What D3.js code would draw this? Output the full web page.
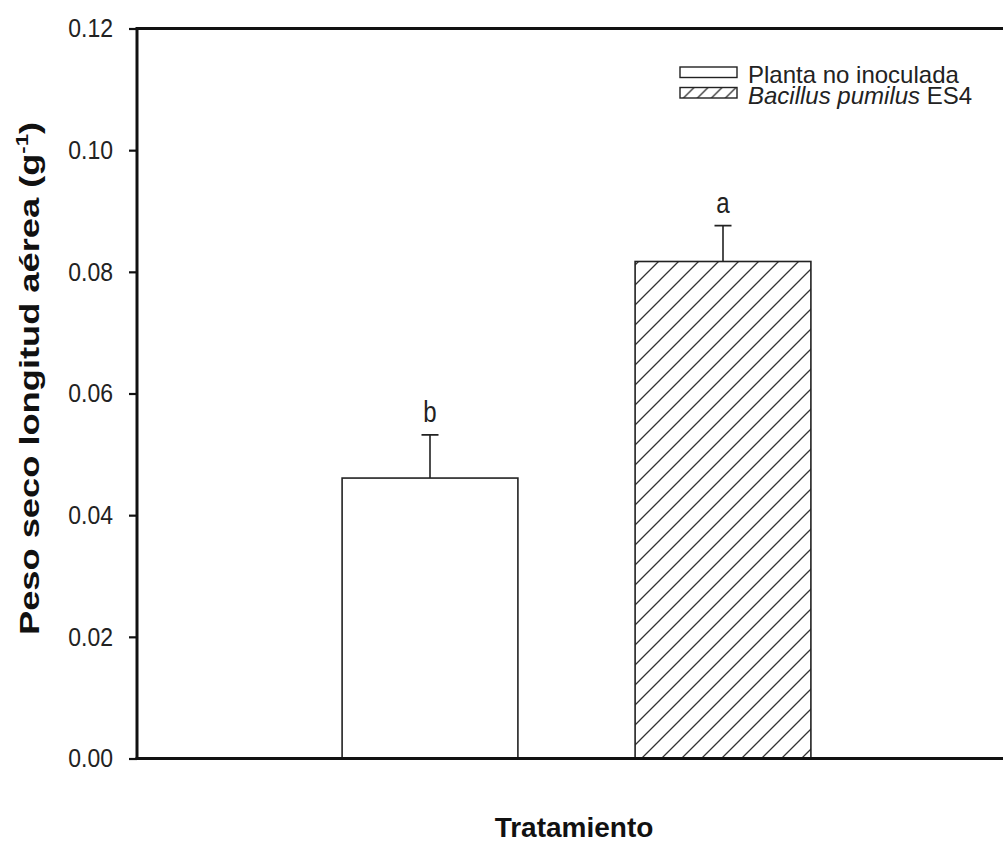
<!DOCTYPE html>
<meta charset="utf-8">
<style>
body, html {
  padding: 0;
  margin: 0;
  background: #fff;
}
svg {
  display: block;
  font-family: "Liberation Sans", Arial, sans-serif;
}
.axis path, .axis line {
  stroke: #111;
}
.bar {
  stroke: #222;
  stroke-width: 1.6px;
}
.err {
  stroke: #222;
  stroke-width: 1.6px;
  fill: none;
}
</style>
<body>
<script src="https://d3js.org/d3.v7.min.js"></script>
<script>

// data
var categories = ["Planta no inoculada", "Bacillus pumilus ES4"]
var means = [0.0461, 0.0817]
var errors = [0.0071, 0.0059]
var letters = ["b", "a"]
var yTicks = [0, 0.02, 0.04, 0.06, 0.08, 0.10, 0.12]

var width = 1003,
    height = 842,
    margin = {left: 137, top: 28.5, bottom: 83.5},
    plotRight = 1016,
    barWidth = 0.6

var svg = d3.select("body").append("svg")
    .attr("width", width)
    .attr("height", height)

var defs = svg.append("defs")

function hatch (id, size) {
  var p = defs.append("pattern")
      .attr("id", id)
      .attr("patternUnits", "userSpaceOnUse")
      .attr("width", size)
      .attr("height", size)
  p.append("rect").attr("width", size).attr("height", size).attr("fill", "#fff")
  p.append("path")
      .attr("d", "M0," + size + "L" + size + ",0M-2,2L2,-2M" + (size - 2) + "," + (size + 2) + "L" + (size + 2) + "," + (size - 2))
      .attr("stroke", "#333")
      .attr("stroke-width", 1.3)
}
hatch("hatch", 20)
hatch("hatch-small", 14)

var fills = ["#fff", "url(#hatch)"]
var legendFills = ["#fff", "url(#hatch-small)"]

var x = d3.scaleLinear()
    .domain([0, 3])
    .range([margin.left, plotRight])

var y = d3.scaleLinear()
    .domain([0, 0.12])
    .range([height - margin.bottom, margin.top])

// bars
svg.selectAll(".bar")
    .data(means)
    .enter().append("rect")
    .attr("class", "bar")
    .attr("x", function(d, i) { return x(i + 1 - barWidth / 2) })
    .attr("width", function() { return x(barWidth) - x(0) })
    .attr("y", function(d) { return y(d) })
    .attr("height", function(d) { return y(0) - y(d) })
    .attr("fill", function(d, i) { return fills[i] })

// error bars (upper only)
svg.selectAll(".err")
    .data(means)
    .enter().append("path")
    .attr("class", "err")
    .attr("d", function(d, i) {
      var cx = x(i + 1), top = y(d + errors[i])
      return "M" + cx + "," + y(d) + "V" + top + "M" + (cx - 8.5) + "," + top + "H" + (cx + 8.5)
    })

// significance letters
svg.selectAll(".letter")
    .data(letters)
    .enter().append("text")
    .attr("class", "letter")
    .attr("transform", function(d, i) {
      return "translate(" + x(i + 1) + "," + (y(means[i] + errors[i]) - 13) + ") scale(1,1.25)"
    })
    .attr("text-anchor", "middle")
    .attr("font-size", 24)
    .attr("fill", "#222")
    .text(function(d) { return d })

// y axis
var yAxis = svg.append("g")
    .attr("class", "axis")
    .attr("transform", "translate(" + margin.left + ",0)")
    .call(d3.axisLeft(y).tickValues(yTicks).tickSize(8).tickPadding(16)
      .tickFormat(d3.format(".2f")))
yAxis.select(".domain").remove()
yAxis.selectAll("line").attr("stroke-width", 2.2)
yAxis.selectAll("text")
    .attr("font-size", 23)
    .attr("font-family", "Liberation Sans, Arial, sans-serif")
    .attr("fill", "#222")
    .attr("transform", "scale(1,1.15)")

// frame: left, top and bottom lines
svg.append("path")
    .attr("d", "M" + margin.left + "," + y(0) + "V" + y(0.12))
    .attr("stroke", "#111").attr("stroke-width", 3).attr("fill", "none")
svg.append("path")
    .attr("d", "M" + (margin.left - 1.5) + "," + y(0.12) + "H" + plotRight)
    .attr("stroke", "#111").attr("stroke-width", 3).attr("fill", "none")
svg.append("path")
    .attr("d", "M" + (margin.left - 1.5) + "," + y(0) + "H" + plotRight)
    .attr("stroke", "#111").attr("stroke-width", 3).attr("fill", "none")

// axis titles
var yTitle = svg.append("text")
    .attr("transform", "translate(39," + 378.5 + ") rotate(-90)")
    .attr("text-anchor", "middle")
    .attr("font-size", 28)
    .attr("font-weight", "bold")
    .attr("fill", "#111")
    .attr("textLength", 513)
    .attr("lengthAdjust", "spacingAndGlyphs")
yTitle.append("tspan").text("Peso seco longitud aérea (g")
yTitle.append("tspan").attr("font-size", 17).attr("dy", -11).text("-1")
yTitle.append("tspan").attr("dy", 11).text(")")

svg.append("text")
    .attr("x", 574)
    .attr("y", 837)
    .attr("text-anchor", "middle")
    .attr("font-size", 28)
    .attr("font-weight", "bold")
    .attr("fill", "#111")
    .text("Tratamiento")

// legend
var legend = svg.append("g")
    .attr("transform", "translate(680,67)")

var item = legend.selectAll("g")
    .data(categories)
    .enter().append("g")
    .attr("transform", function(d, i) { return "translate(0," + i * 20.5 + ")" })

item.append("rect")
    .attr("width", 57)
    .attr("height", 10.5)
    .attr("fill", function(d, i) { return legendFills[i] })
    .attr("stroke", "#222")
    .attr("stroke-width", 1.4)

var label = item.append("text")
    .attr("x", 68)
    .attr("y", 16)
    .attr("font-size", 24)
    .attr("fill", "#222")

label.filter(function(d, i) { return i === 0 }).text(function(d) { return d })
label.filter(function(d, i) { return i === 1 }).each(function(d) {
  var t = d3.select(this)
  t.append("tspan").attr("font-style", "italic").text("Bacillus pumilus")
  t.append("tspan").text(" ES4")
})

</script>
</body>
